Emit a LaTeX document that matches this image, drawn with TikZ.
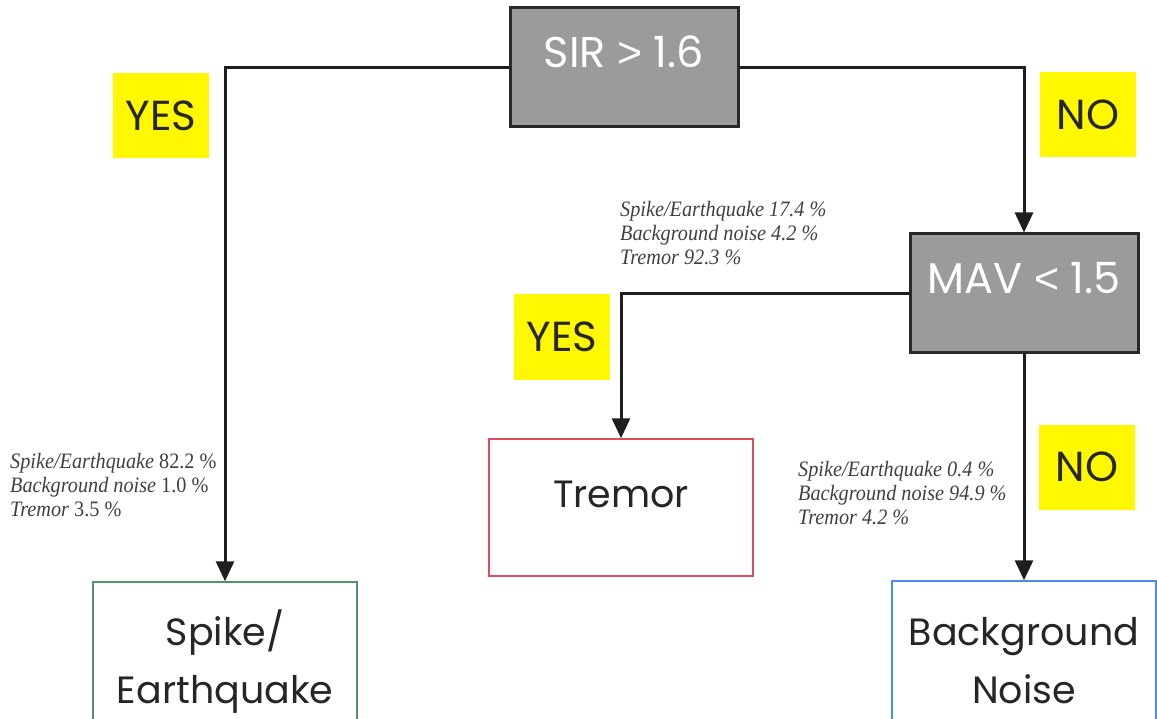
\documentclass[tikz,border=0pt]{standalone}
\usepackage{fontspec}
\setmainfont{Poppins}
\newfontfamily\statfont{Liberation Serif}[FakeStretch=0.92]
\newfontfamily\relfont{Liberation Sans}
\usetikzlibrary{arrows.meta}
\definecolor{testgray}{RGB}{155,155,155}
\definecolor{testline}{RGB}{40,40,40}
\definecolor{tagyellow}{RGB}{255,248,0}
\definecolor{flowline}{RGB}{30,30,30}
\definecolor{spikegreen}{RGB}{80,150,105}
\definecolor{tremorred}{RGB}{225,75,95}
\definecolor{noiseblue}{RGB}{75,140,230}

\begin{document}
\begin{tikzpicture}[x=1pt,y=-1pt,
		test/.style={draw=testline,fill=testgray,line width=3pt,text=white,minimum width=228pt,minimum height=119pt,text height=30pt,text depth=30pt,font=\fontsize{43}{50}\selectfont},
		tag/.style={fill=tagyellow,minimum width=96pt,minimum height=85pt,text=black!85,font=\fontsize{42}{50}\selectfont},
		class/.style={draw=#1,line width=1.5pt,minimum width=264pt,align=center,text=black!85,font=\fontsize{38}{58}\selectfont},
		stats/.style={anchor=north west,align=left,inner sep=0pt,text=black!75,font=\statfont\fontsize{22}{24}\selectfont#1},
		stats/.default={},
		flow/.style={draw=flowline,line width=3pt,-{Triangle[length=20pt,width=18pt]}}]
	\useasboundingbox (0,0) rectangle (1157,719);
	\clip (0,0) rectangle (1157,719);
	\node[test] (sir) at (624,67.5) {SIR {\relfont >} 1.6};
	\node[test] (mav) at (1024,293.5) {MAV {\relfont <} 1.5};
	\node[class=spikegreen,minimum height=160pt] (spike) at (225,662) {Spike/\\Earthquake};
	\node[class=tremorred,minimum height=137pt,text height=30pt,text depth=30pt,font=\fontsize{38}{50}\selectfont] (tremor) at (621,507.5) {Tremor};
	\node[class=noiseblue,minimum height=160pt] (noise) at (1024,661) {Background\\Noise};
	\node[tag] (yesA) at (161,115.5) {YES};
	\node[tag] (noA) at (1088,114.5) {NO};
	\node[tag] (yesB) at (562,337) {YES};
	\node[tag] (noB) at (1087,467) {NO};
	\node[stats=\itshape] (tremorstats) at (620,201) {Spike/Earthquake 17.4 \%\\Background noise 4.2 \%\\Tremor 92.3 \%};
	\node[stats] (spikestats) at (10,453) {\textit{Spike/Earthquake} 82.2 \%\\\textit{Background noise} 1.0 \%\\\textit{Tremor} 3.5 \%};
	\node[stats=\itshape] (noisestats) at (798,461) {Spike/Earthquake 0.4 \%\\Background noise 94.9 \%\\Tremor 4.2 \%};
	\draw[flow] (sir.west) -| (spike.north);
	\draw[flow] (sir.east) -| (mav.north);
	\draw[flow] (mav.west) -| (tremor.north);
	\draw[flow] (mav.south) -- (noise.north);
\end{tikzpicture}
\end{document}
